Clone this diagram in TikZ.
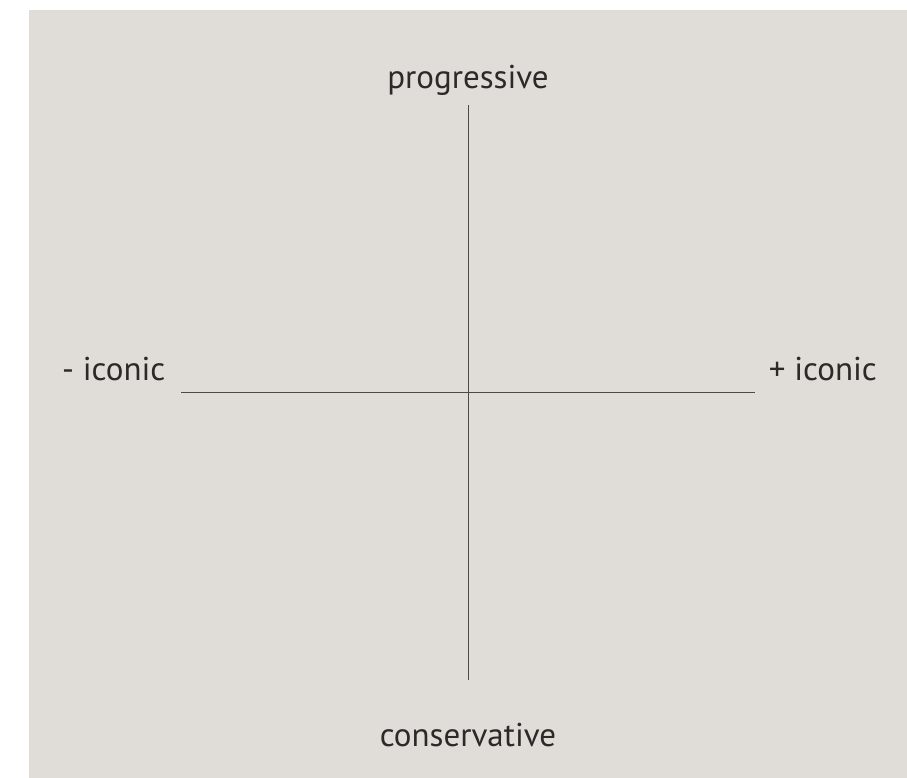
\documentclass[tikz,border=0pt]{standalone}
\usepackage{fontspec}
\setmainfont{PT Sans}
\usepackage{tikz}
\usepackage{xcolor}
\usetikzlibrary{positioning}
\definecolor{bgpanel}{HTML}{E0DDD9}
\definecolor{inkgray}{HTML}{2B2A29}

\begin{document}
\begin{tikzpicture}[x=1pt,y=-1pt,
  axislabel/.style={text=inkgray,font=\fontsize{33}{38}\selectfont,inner sep=0pt},
  axisline/.style={draw=inkgray!85,line width=0.9pt}]
  % background
  \useasboundingbox (0,0) rectangle (907,778);
  \fill[bgpanel] (29,10) rectangle (907,778);
  % axes
  \coordinate (top) at (468,105);
  \coordinate (bottom) at (468,680);
  \coordinate (left) at (181,392);
  \coordinate (right) at (755,392);
  \draw[axisline] (top) -- (bottom);
  \draw[axisline] (left) -- (right);
  % labels
  \node[axislabel,anchor=base] (progressive) at (468,89) {progressive};
  \node[axislabel,anchor=base] (conservative) at (468,746) {conservative};
  \node[axislabel,anchor=base west] (lessiconic) at (62,380) {- iconic};
  \node[axislabel,anchor=base east] (moreiconic) at (877,380) {+ iconic};
\end{tikzpicture}
\end{document}
